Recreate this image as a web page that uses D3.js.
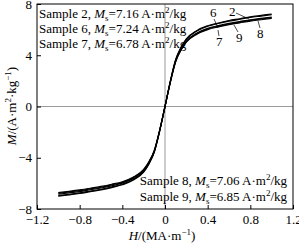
<!DOCTYPE html>
<html lang="en">
<head>
<meta charset="UTF-8">
<title>M-H curves</title>
<style>
  body { margin: 0; background: #fff; }
  text { font-family: "Liberation Serif", "Times New Roman", serif; fill: #000; }
  .axis path { display: none; }
  .axis line { stroke: #000; }
  .axis text { font-size: 13px; font-family: "Liberation Serif", serif; }
</style>
</head>
<body>
<script src="https://d3js.org/d3.v7.min.js"></script>
<script>
// field values, MA/m
const fieldH = [-1.0, -0.9, -0.8, -0.7, -0.6, -0.5, -0.4, -0.3, -0.2, -0.15, -0.1, -0.05, 0,
                0.05, 0.1, 0.15, 0.2, 0.3, 0.4, 0.5, 0.6, 0.7, 0.8, 0.9, 1.0];

// magnetization, A·m²/kg
const sample6 = [-7.00, -6.90, -6.79, -6.65, -6.51, -6.33, -6.11, -5.76, -5.12, -4.48, -3.56, -1.92, 0,
                 1.98, 3.67, 4.62, 5.28, 5.94, 6.30, 6.52, 6.71, 6.85, 7.00, 7.11, 7.22];
const sample2 = [-6.95, -6.85, -6.74, -6.60, -6.46, -6.28, -6.07, -5.72, -5.08, -4.45, -3.53, -1.91, 0,
                 1.97, 3.64, 4.59, 5.24, 5.90, 6.26, 6.48, 6.66, 6.81, 6.95, 7.06, 7.17];
const sample8 = [-6.85, -6.74, -6.64, -6.50, -6.36, -6.19, -5.98, -5.63, -5.00, -4.38, -3.48, -1.88, 0,
                 1.91, 3.55, 4.47, 5.10, 5.74, 6.10, 6.31, 6.49, 6.63, 6.77, 6.88, 6.98];
const sample9 = [-6.78, -6.67, -6.57, -6.43, -6.30, -6.12, -5.92, -5.57, -4.95, -4.33, -3.44, -1.86, 0,
                 1.90, 3.52, 4.44, 5.07, 5.70, 6.05, 6.27, 6.44, 6.58, 6.72, 6.83, 6.93];
const sample7 = [-6.72, -6.62, -6.51, -6.38, -6.24, -6.07, -5.87, -5.52, -4.91, -4.30, -3.41, -1.84, 0,
                 1.88, 3.49, 4.40, 5.03, 5.65, 6.00, 6.21, 6.39, 6.53, 6.67, 6.77, 6.88];

const seriesList = [sample6, sample2, sample8, sample9, sample7];

const xTicks = [-1.2, -0.8, -0.4, 0, 0.4, 0.8, 1.2];
const yTicks = [-8, -4, 0, 4, 8];

const legendTop = [["2", "7.16"], ["6", "7.24"], ["7", "6.78"]];
const legendBottom = [["8", "7.06"], ["9", "6.85"]];

const W = 299, H = 243;
const pL = 37, pR = 293, pT = 4, pB = 209;

const svg = d3.select("body").append("svg")
    .attr("width", W)
    .attr("height", H);

const x = d3.scaleLinear().domain([-1.2, 1.2]).range([pL, pR]);
const y = d3.scaleLinear().domain([-8, 8]).range([pB, pT]);

const fmt = d => d === 0 ? "0" : (d < 0 ? "\u2212" : "") + Math.abs(d);

// zero lines
svg.append("line")
    .attr("x1", x(0)).attr("x2", x(0))
    .attr("y1", pT).attr("y2", pB)
    .attr("stroke", "#9a9a9a").attr("stroke-width", 1);
svg.append("line")
    .attr("x1", pL).attr("x2", pR)
    .attr("y1", y(0)).attr("y2", y(0))
    .attr("stroke", "#9a9a9a").attr("stroke-width", 1);

// axes
svg.append("g")
    .attr("class", "axis")
    .attr("transform", `translate(0,${pB})`)
    .call(d3.axisBottom(x).tickValues(xTicks).tickFormat(fmt)
        .tickSizeInner(-4).tickSizeOuter(0).tickPadding(6));

svg.append("g")
    .attr("class", "axis")
    .attr("transform", `translate(${pL},0)`)
    .call(d3.axisLeft(y).tickValues(yTicks).tickFormat(fmt)
        .tickSizeInner(-4).tickSizeOuter(0).tickPadding(5));

// frame
svg.append("rect")
    .attr("x", pL).attr("y", pT)
    .attr("width", pR - pL).attr("height", pB - pT)
    .attr("fill", "none").attr("stroke", "#000").attr("stroke-width", 1);

// curves
const line = d3.line()
    .x((d, i) => x(fieldH[i]))
    .y(d => y(d))
    .curve(d3.curveMonotoneX);

svg.selectAll(".curve")
    .data(seriesList)
    .enter()
    .append("path")
    .attr("class", "curve")
    .attr("d", line)
    .attr("fill", "none")
    .attr("stroke", "#000")
    .attr("stroke-width", 1.2);

// curve labels with leader lines
const tags = [
    { t: "6", tx: 210, ty: 17, lx1: 214, ly1: 19, lx2: 218, ly2: 28 },
    { t: "2", tx: 229, ty: 16, lx1: 236, ly1: 13, lx2: 249, ly2: 19 },
    { t: "7", tx: 216, ty: 46, lx1: 219, ly1: 36, lx2: 218, ly2: 30 },
    { t: "9", tx: 236, ty: 42, lx1: 238, ly1: 32, lx2: 234, ly2: 25 },
    { t: "8", tx: 257, ty: 38, lx1: 260, ly1: 28, lx2: 258, ly2: 21 }
];
tags.forEach(d => {
    svg.append("line")
        .attr("x1", d.lx1).attr("y1", d.ly1)
        .attr("x2", d.lx2).attr("y2", d.ly2)
        .attr("stroke", "#000").attr("stroke-width", 0.7);
    svg.append("text")
        .attr("x", d.tx).attr("y", d.ty)
        .attr("font-size", 13)
        .text(d.t);
});

// legend text
function sampleText(sel, num, ms) {
    sel.append("tspan").text(`Sample ${num}, `);
    sel.append("tspan").attr("font-style", "italic").text("M");
    sel.append("tspan").attr("font-size", 9).attr("dy", 3).text("s");
    sel.append("tspan").attr("dy", -3).text(`=${ms} A\u00b7m`);
    sel.append("tspan").attr("font-size", 9).attr("dy", -5).text("2");
    sel.append("tspan").attr("dy", 5).text("/kg");
}

legendTop.forEach((d, i) => {
    svg.append("text")
        .attr("x", 39).attr("y", 18 + i * 15)
        .attr("font-size", 13)
        .call(sampleText, d[0], d[1]);
});
legendBottom.forEach((d, i) => {
    svg.append("text")
        .attr("x", 287).attr("y", 185 + i * 16)
        .attr("font-size", 13)
        .attr("text-anchor", "end")
        .call(sampleText, d[0], d[1]);
});

// axis titles
const xt = svg.append("text")
    .attr("x", 162).attr("y", 240)
    .attr("text-anchor", "middle")
    .attr("font-size", 13);
xt.append("tspan").attr("font-style", "italic").text("H");
xt.append("tspan").text("/(MA\u00b7m");
xt.append("tspan").attr("font-size", 9).attr("dy", -5).text("\u22121");
xt.append("tspan").attr("dy", 5).text(")");

const yt = svg.append("text")
    .attr("transform", "translate(16,106) rotate(-90)")
    .attr("text-anchor", "middle")
    .attr("font-size", 13);
yt.append("tspan").attr("font-style", "italic").text("M");
yt.append("tspan").text("/(A\u00b7m");
yt.append("tspan").attr("font-size", 9).attr("dy", -5).text("2");
yt.append("tspan").attr("dy", 5).text("\u00b7kg");
yt.append("tspan").attr("font-size", 9).attr("dy", -5).text("\u22121");
yt.append("tspan").attr("dy", 5).text(")");
</script>
</body>
</html>
